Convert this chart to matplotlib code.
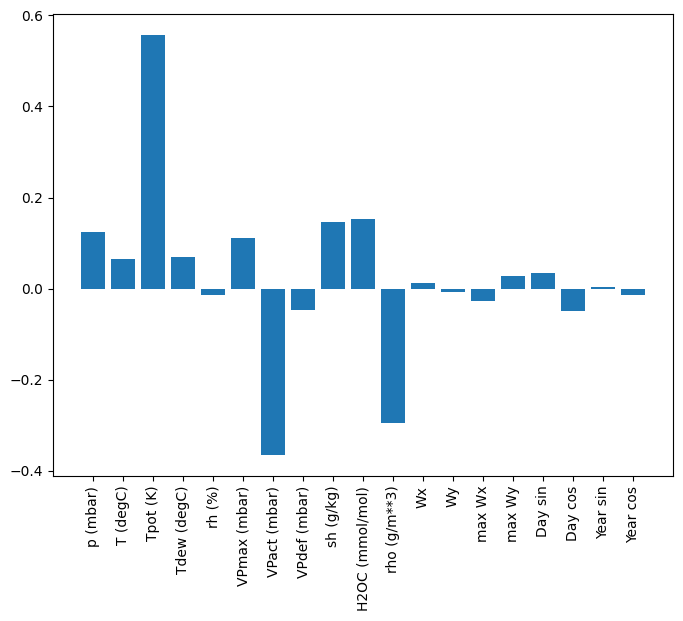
import numpy as np
import matplotlib
matplotlib.use("Agg")
import matplotlib.pyplot as plt

labels = ['p (mbar)', 'T (degC)', 'Tpot (K)', 'Tdew (degC)', 'rh (%)',
          'VPmax (mbar)', 'VPact (mbar)', 'VPdef (mbar)', 'sh (g/kg)',
          'H2OC (mmol/mol)', 'rho (g/m**3)', 'Wx', 'Wy', 'max Wx', 'max Wy',
          'Day sin', 'Day cos', 'Year sin', 'Year cos']
weights = [0.125, 0.066, 0.557, 0.070, -0.013, 0.112, -0.365, -0.046, 0.147,
           0.154, -0.294, 0.013, -0.007, -0.026, 0.029, 0.035, -0.050, 0.004,
           -0.013]

fig = plt.figure(figsize=(6.83, 6.21), dpi=100)
ax = fig.add_subplot(111)
fig.subplots_adjust(left=0.0776, right=0.9854, top=0.9775, bottom=0.2335)
x = np.arange(len(weights))
ax.bar(x, weights)
ax.set_xticks(x)
ax.set_xticklabels(labels, rotation=90)
fig.savefig('out.png', dpi=100)
